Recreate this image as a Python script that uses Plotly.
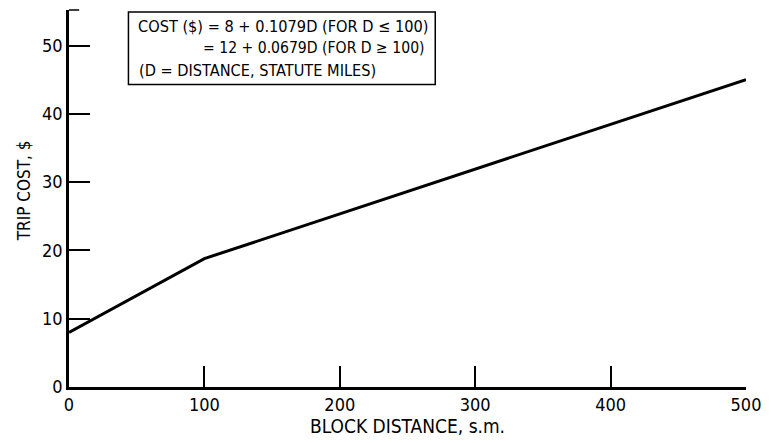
import plotly.graph_objects as go

distance = [0, 100, 500]
trip_cost = [8, 18.8, 45]

x_ticks = [0, 100, 200, 300, 400, 500]
y_ticks = [0, 10, 20, 30, 40, 50]

eq_lines = ["COST ($) = 8 + 0.1079D (FOR D \u2264 100)",
            "= 12 + 0.0679D (FOR D \u2265 100)",
            "(D = DISTANCE, STATUTE MILES)"]

FONT = "DejaVu Sans Condensed, Liberation Sans Narrow, Liberation Sans, Arial"

fig = go.Figure()
fig.add_trace(go.Scatter(x=distance, y=trip_cost, mode="lines",
                         line=dict(color="black", width=3), showlegend=False,
                         hoverinfo="skip"))

fig.update_layout(
    width=771, height=443,
    margin=dict(l=69, r=19, t=10, b=56),
    paper_bgcolor="white", plot_bgcolor="white",
    font=dict(family=FONT, color="black"),
    xaxis=dict(range=[0, 500], tickvals=x_ticks, ticktext=[str(v) for v in x_ticks],
               showgrid=False, zeroline=False, showline=True, linecolor="black",
               linewidth=2.5, ticks="inside", ticklen=21, tickwidth=1.5, tickcolor="black",
               tickfont=dict(size=18, family=FONT),
               title=dict(text="BLOCK DISTANCE, s.m.", font=dict(size=19, family=FONT),
                          standoff=4)),
    yaxis=dict(range=[0, 55.2], tickvals=y_ticks, ticktext=[str(v) for v in y_ticks],
               showgrid=False, zeroline=False, showline=True, linecolor="black",
               linewidth=2.5, ticks="inside", ticklen=21, tickwidth=1.5, tickcolor="black",
               tickfont=dict(size=18, family=FONT)),
)

# y axis title
fig.add_annotation(x=0, xref="paper", xshift=-45, y=28.65, yref="y", text="TRIP COST, $",
                   textangle=-90, showarrow=False, xanchor="center", yanchor="middle",
                   font=dict(size=17, family=FONT))

# small cap tick at top of y axis
fig.add_shape(type="line", xref="paper", yref="paper", x0=0, x1=0.015, y0=1, y1=1,
              line=dict(color="black", width=1.5))

# equation box
fig.add_shape(type="rect", xref="x", yref="y", x0=43.9, x1=270.5, y0=44.3, y1=54.9,
              line=dict(color="black", width=1.5), fillcolor="white")
fig.add_annotation(x=49.8, y=52.75, xref="x", yref="y", text=eq_lines[0], showarrow=False,
                   xanchor="left", yanchor="middle", font=dict(size=16.2, family=FONT))
fig.add_annotation(x=264.3, y=49.66, xref="x", yref="y", text=eq_lines[1], showarrow=False,
                   xanchor="right", yanchor="middle", font=dict(size=15.6, family=FONT))
fig.add_annotation(x=50.5, y=46.37, xref="x", yref="y", text=eq_lines[2], showarrow=False,
                   xanchor="left", yanchor="middle", font=dict(size=16.2, family=FONT))

fig.write_html("out.html")
